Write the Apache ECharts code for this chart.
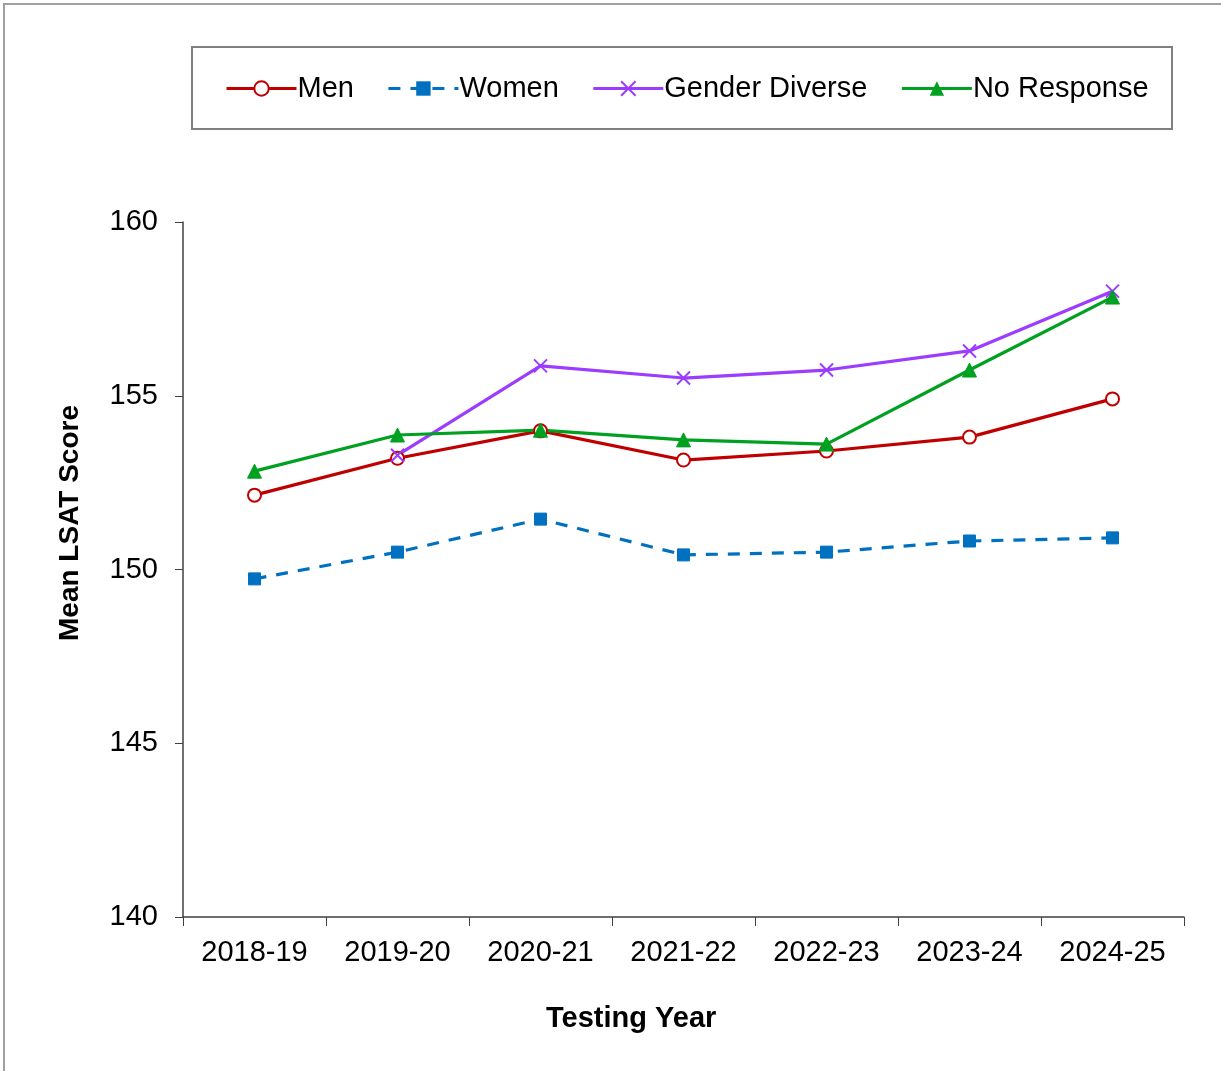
<!DOCTYPE html>
<html>
<head>
<meta charset="utf-8">
<script src="https://cdn.jsdelivr.net/npm/echarts@6/dist/echarts.min.js"></script>
<style>
  html, body { margin: 0; padding: 0; background: #fff; }
  #chart { width: 1221px; height: 1071px; }
</style>
</head>
<body>
<div id="chart"></div>
<script>
const years = ['2018-19', '2019-20', '2020-21', '2021-22', '2022-23', '2023-24', '2024-25'];
const men = [152.14, 153.2, 153.99, 153.15, 153.41, 153.81, 154.91];
const women = [149.73, 150.5, 151.45, 150.42, 150.5, 150.82, 150.91];
const genderDiverse = [null, 153.29, 155.86, 155.51, 155.74, 156.29, 158.01];
const noResponse = [152.83, 153.87, 154.01, 153.73, 153.61, 155.74, 157.84];
const yTicks = [140, 145, 150, 155, 160];

const chart = echarts.init(document.getElementById('chart'));
const font = 'Liberation Sans, Arial, sans-serif';

function line(name, data, color, symbol, size, extra) {
    return Object.assign({
        name: name,
        type: 'line',
        data: data,
        symbol: symbol,
        symbolSize: size,
        showAllSymbol: true,
        connectNulls: false,
        lineStyle: { color: color, width: 3.2 },
        itemStyle: { color: color, borderColor: color },
        emphasis: { disabled: true },
        z: 3
    }, extra || {});
}

const option = {
    animation: false,
    backgroundColor: '#fff',
    graphic: [
        // outer frame
        { type: 'rect', shape: { x: 4, y: 4, width: 1300, height: 1200 }, style: { fill: 'none', stroke: '#a0a0a0', lineWidth: 2 } },
        // legend box
        { type: 'rect', shape: { x: 192, y: 47, width: 980, height: 82 }, style: { fill: 'none', stroke: '#808080', lineWidth: 2 } },
        { type: 'text', left: 546, top: 1004, style: { text: 'Testing Year', font: 'bold 29px ' + font, fill: '#000' } },
        {
            type: 'text', x: 70, y: 523, rotation: Math.PI / 2,
            style: { text: 'Mean LSAT Score', font: 'bold 28px ' + font, fill: '#000', align: 'center', verticalAlign: 'middle' }
        }
    ],
    legend: {
        left: 220,
        top: 69,
        itemWidth: 70,
        itemHeight: 18,
        itemGap: 33,
        lineStyle: { width: 3 },
        textStyle: { fontFamily: font, fontSize: 29, color: '#000', padding: [0, 0, 0, -4] },
        data: ['Men', 'Women', 'Gender Diverse', 'No Response']
    },
    grid: { left: 183, top: 222, right: 37, bottom: 154, containLabel: false },
    xAxis: {
        type: 'category',
        data: years,
        boundaryGap: true,
        axisLine: { lineStyle: { color: '#404040', width: 1.5 } },
        axisTick: { show: true, length: 9, lineStyle: { color: '#404040' } },
        axisLabel: { fontFamily: font, fontSize: 29, color: '#000', margin: 21 }
    },
    yAxis: {
        type: 'value',
        min: 140,
        max: 160,
        interval: 5,
        axisLine: { show: true, lineStyle: { color: '#404040', width: 1.5 } },
        axisTick: { show: true, length: 8, lineStyle: { color: '#404040' } },
        splitLine: { show: false },
        axisLabel: {
            fontFamily: font, fontSize: 29, color: '#000', margin: 25,
            formatter: v => (yTicks.indexOf(v) >= 0 ? String(v) : '')
        }
    },
    series: [
        line('Men', men, '#C00000', 'circle', 13, {
            itemStyle: { color: '#fff', borderColor: '#C00000', borderWidth: 2 }
        }),
        line('Women', women, '#0070C0', 'rect', 12, {
            lineStyle: { color: '#0070C0', width: 3.2, type: [12, 10] }
        }),
        line('Gender Diverse', genderDiverse, '#9B3CFF', 'path://M0,0L10,10M10,0L0,10', 13, {
            itemStyle: { color: 'none', borderColor: '#9B3CFF', borderWidth: 2 }
        }),
        line('No Response', noResponse, '#00A020', 'triangle', 14)
    ]
};

chart.setOption(option);
</script>
</body>
</html>
